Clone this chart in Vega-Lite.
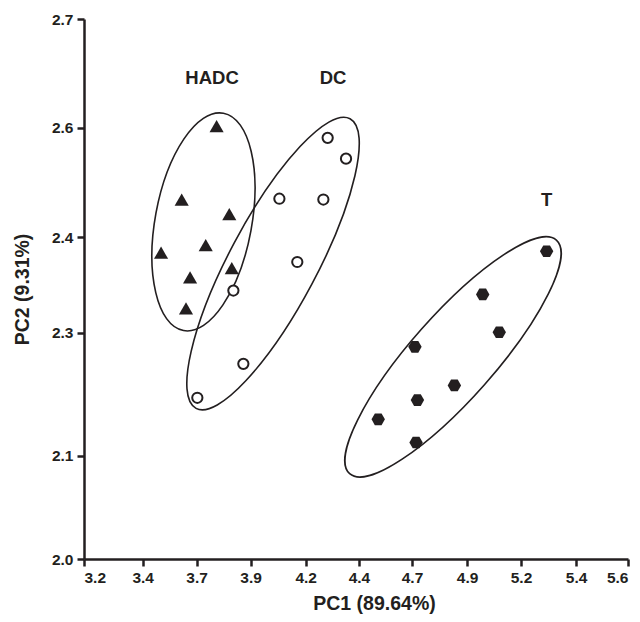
{
  "$schema": "https://vega.github.io/schema/vega-lite/v6.json",
  "width": 544,
  "height": 540,
  "autosize": "none",
  "padding": {"left": 84, "top": 19, "right": 12, "bottom": 63},
  "background": "white",
  "config": {
    "view": {"stroke": null},
    "font": "Liberation Sans",
    "axis": {
      "grid": false,
      "domainWidth": 2.5,
      "domainColor": "#231f20",
      "tickColor": "#231f20",
      "tickWidth": 2.5,
      "tickSize": 7,
      "labelFont": "Liberation Sans",
      "labelFontWeight": "bold",
      "labelFontSize": 15.5,
      "labelColor": "#231f20",
      "labelPadding": 4,
      "titleFont": "Liberation Sans",
      "titleFontSize": 19.5,
      "titleFontWeight": "bold",
      "titleColor": "#231f20"
    }
  },
  "datasets": {
    "points": [
      {"group": "HADC", "pc1": 3.785, "pc2": 2.561},
      {"group": "HADC", "pc1": 3.631, "pc2": 2.466},
      {"group": "HADC", "pc1": 3.841, "pc2": 2.447},
      {"group": "HADC", "pc1": 3.737, "pc2": 2.407},
      {"group": "HADC", "pc1": 3.540, "pc2": 2.397},
      {"group": "HADC", "pc1": 3.668, "pc2": 2.365},
      {"group": "HADC", "pc1": 3.852, "pc2": 2.377},
      {"group": "HADC", "pc1": 3.650, "pc2": 2.325},
      {"group": "DC", "pc1": 4.275, "pc2": 2.546},
      {"group": "DC", "pc1": 4.356, "pc2": 2.519},
      {"group": "DC", "pc1": 4.062, "pc2": 2.467},
      {"group": "DC", "pc1": 4.256, "pc2": 2.466},
      {"group": "DC", "pc1": 4.141, "pc2": 2.385},
      {"group": "DC", "pc1": 3.859, "pc2": 2.348},
      {"group": "DC", "pc1": 3.903, "pc2": 2.253},
      {"group": "DC", "pc1": 3.700, "pc2": 2.209},
      {"group": "T", "pc1": 5.241, "pc2": 2.399},
      {"group": "T", "pc1": 4.959, "pc2": 2.343},
      {"group": "T", "pc1": 5.032, "pc2": 2.294},
      {"group": "T", "pc1": 4.660, "pc2": 2.275},
      {"group": "T", "pc1": 4.834, "pc2": 2.225},
      {"group": "T", "pc1": 4.671, "pc2": 2.206},
      {"group": "T", "pc1": 4.498, "pc2": 2.181},
      {"group": "T", "pc1": 4.665, "pc2": 2.151}
    ],
    "ellipses": [
      {"group": "HADC", "pc1": 3.727, "pc2": 2.437},
      {"group": "DC", "pc1": 4.034, "pc2": 2.383},
      {"group": "T", "pc1": 4.828, "pc2": 2.262}
    ],
    "labels": [
      {"label": "HADC", "pc1": 3.765, "pc2": 2.623},
      {"label": "DC", "pc1": 4.299, "pc2": 2.623},
      {"label": "T", "pc1": 5.241, "pc2": 2.466}
    ]
  },
  "encoding": {
    "x": {
      "field": "pc1",
      "type": "quantitative",
      "scale": {"domain": [3.2, 5.6], "nice": false, "zero": false},
      "axis": {
        "title": "PC1 (89.64%)",
        "values": [3.2, 3.459, 3.697, 3.935, 4.178, 4.413, 4.647, 4.89, 5.128, 5.371, 5.6],
        "labelExpr": "datum.value > 3.3 && datum.value < 3.5 ? '3.4' : (datum.value > 4.6 && datum.value < 4.7 ? '4.7' : (datum.value > 5.1 && datum.value < 5.2 ? '5.2' : format(datum.value, '.1f')))",
        "titlePadding": 9,
        "titleX": 290
      }
    },
    "y": {
      "field": "pc2",
      "type": "quantitative",
      "scale": {"domain": [2.0, 2.7], "nice": false, "zero": false},
      "axis": {
        "title": "PC2 (9.31%)",
        "values": [2.0, 2.134, 2.293, 2.417, 2.559, 2.7],
        "format": ".1f",
        "titlePadding": 19
      }
    }
  },
  "layer": [
    {
      "data": {"name": "ellipses"},
      "transform": [{"filter": "datum.group === 'HADC'"}],
      "mark": {"type": "point", "shape": "M-1,0A1,0.437,0,1,0,1,0A1,0.437,0,1,0,-1,0Z", "size": 48841, "angle": 280.4, "filled": false, "stroke": "#231f20", "strokeWidth": 1.6, "opacity": 1}
    },
    {
      "data": {"name": "ellipses"},
      "transform": [{"filter": "datum.group === 'DC'"}],
      "mark": {"type": "point", "shape": "M-1,0A1,0.268,0,1,0,1,0A1,0.268,0,1,0,-1,0Z", "size": 107584, "angle": 298, "filled": false, "stroke": "#231f20", "strokeWidth": 1.6, "opacity": 1}
    },
    {
      "data": {"name": "ellipses"},
      "transform": [{"filter": "datum.group === 'T'"}],
      "mark": {"type": "point", "shape": "M-1,0A1,0.269,0,1,0,1,0A1,0.269,0,1,0,-1,0Z", "size": 97344, "angle": 311.5, "filled": false, "stroke": "#231f20", "strokeWidth": 1.6, "opacity": 1}
    },
    {
      "data": {"name": "points"},
      "transform": [{"filter": "datum.group === 'HADC'"}],
      "mark": {"type": "point", "shape": "triangle-up", "size": 200, "filled": true, "fill": "#231f20", "opacity": 1}
    },
    {
      "data": {"name": "points"},
      "transform": [{"filter": "datum.group === 'DC'"}],
      "mark": {"type": "point", "shape": "circle", "size": 105, "filled": true, "fill": "white", "stroke": "#231f20", "strokeWidth": 2, "opacity": 1}
    },
    {
      "data": {"name": "points"},
      "transform": [{"filter": "datum.group === 'T'"}],
      "mark": {"type": "point", "shape": "M-1,0L-0.5,-0.866L0.5,-0.866L1,0L0.5,0.866L-0.5,0.866Z", "size": 180, "filled": true, "fill": "#231f20", "opacity": 1}
    },
    {
      "data": {"name": "labels"},
      "mark": {"type": "text", "font": "Liberation Sans", "fontSize": 18.5, "fontWeight": "bold", "color": "#231f20", "align": "center", "baseline": "middle"},
      "encoding": {"text": {"field": "label", "type": "nominal"}}
    }
  ]
}
